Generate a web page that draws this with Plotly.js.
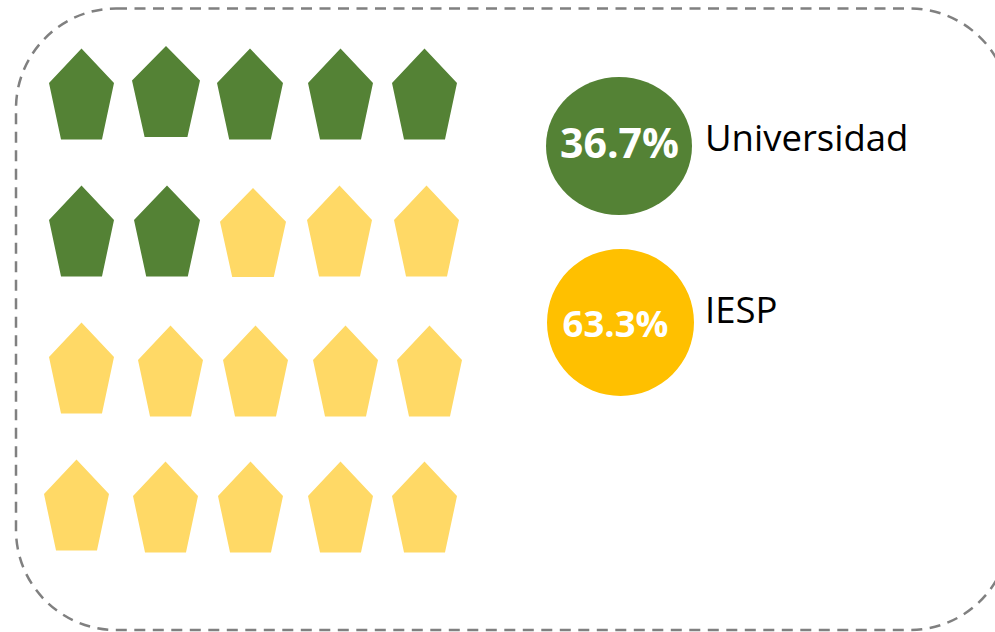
<!DOCTYPE html>
<html><head><meta charset="utf-8">
<script src="https://cdn.plot.ly/plotly-3.0.1.min.js"></script>
<style>html,body{margin:0;padding:0;background:#fff;overflow:hidden}#c{width:995px;height:632px}</style>
</head><body><div id="c"></div>
<script>
const categories = ['Universidad', 'IESP'];
const shares = ['36.7%', '63.3%'];
const iconCounts = [7, 13];
const iconColors = ['#548235', '#FFD966'];
const circleColors = ['#548235', '#FFC000'];

// left / top / width of each icon
const iconLeft = [49,132,217,308,392, 49,134,220,307,394, 49,138,223,313,397, 44,133,218,308,392];
const iconTop  = [48.5,46,48.5,48.5,48.5, 185.5,185.5,188,185.5,185.5, 322.5,325.5,325.5,325.5,325.5, 459.5,461.5,461.5,461.5,461.5];
const iconWide = [65,68,66,65,65, 65,66,66,65,65, 65,65,65,65,65, 65,65,65,65,65];
const iconTall = [91,91,91,91,91, 91,91,89,91,91, 91,91,91,91,91, 91,91,91,91,91];

// pentagon outline as fractions of its box
const penX = [0.5, 1, 0.815, 0.185, 0, 0.5];
const penY = [0, 0.38, 1, 1, 0.38, 0];

function icons(start, n, color, name) {
  const x = [], y = [];
  for (let i = start; i < start + n; i++) {
    penX.forEach((f, k) => {
      x.push(iconLeft[i] + f * iconWide[i]);
      y.push(iconTop[i] + penY[k] * iconTall[i]);
    });
    x.push(null); y.push(null);
  }
  return {type:'scatter', mode:'lines', x, y, name, fill:'toself', fillcolor:color,
          line:{width:0, color:color}, hoverinfo:'skip', showlegend:false};
}

const circleX0 = [546, 547], circleX1 = [692, 694];
const circleY0 = [77, 249], circleY1 = [215, 396];
const shareX = [619.5, 615.5], shareY = [147.5, 327.5], shareSize = [41, 36.5];
const labelX = [705, 705], labelY = [142, 314], labelSize = [36.5, 36.5];

const border = {x0:16, x1:1010, y0:8.5, y1:630, r:100};

function framePath(b) {
  const k = b.r * 0.45;
  return `M ${b.x0+b.r} ${b.y0} L ${b.x1-b.r} ${b.y0} ` +
    `C ${b.x1-k} ${b.y0} ${b.x1} ${b.y0+k} ${b.x1} ${b.y0+b.r} L ${b.x1} ${b.y1-b.r} ` +
    `C ${b.x1} ${b.y1-k} ${b.x1-k} ${b.y1} ${b.x1-b.r} ${b.y1} L ${b.x0+b.r} ${b.y1} ` +
    `C ${b.x0+k} ${b.y1} ${b.x0} ${b.y1-k} ${b.x0} ${b.y1-b.r} L ${b.x0} ${b.y0+b.r} ` +
    `C ${b.x0} ${b.y0+k} ${b.x0+k} ${b.y0} ${b.x0+b.r} ${b.y0} Z`;
}

const shapes = [{type:'path', path:framePath(border), xref:'x', yref:'y', layer:'below',
  line:{color:'#808080', width:2.5, dash:'11px,7.5px'}, fillcolor:'rgba(0,0,0,0)'}];
categories.forEach((c, i) => shapes.push({type:'circle', xref:'x', yref:'y', layer:'below',
  x0:circleX0[i], x1:circleX1[i], y0:circleY0[i], y1:circleY1[i],
  fillcolor:circleColors[i], line:{width:0}}));

const traces = [
  icons(0, iconCounts[0], iconColors[0], categories[0]),
  icons(iconCounts[0], iconCounts[1], iconColors[1], categories[1]),
  ...categories.map((c, i) => ({type:'scatter', mode:'text', x:[shareX[i]], y:[shareY[i]], text:['<b>'+shares[i]+'</b>'],
    textposition:'middle center', textfont:{family:'Open Sans', size:shareSize[i], color:'#fff'},
    hoverinfo:'skip', showlegend:false, cliponaxis:false})),
  ...categories.map((c, i) => ({type:'scatter', mode:'text', x:[labelX[i]], y:[labelY[i]], text:[c],
    textposition:'middle right', textfont:{family:'Open Sans', size:labelSize[i], color:'#000'},
    hoverinfo:'skip', showlegend:false, cliponaxis:false}))
];

Plotly.newPlot('c', traces, {
  width:995, height:632, margin:{l:0,r:0,t:0,b:0},
  paper_bgcolor:'#fff', plot_bgcolor:'#fff', showlegend:false,
  xaxis:{range:[0,995], visible:false, fixedrange:true},
  yaxis:{range:[632,0], visible:false, fixedrange:true},
  shapes
}, {displayModeBar:false, staticPlot:true});
</script></body></html>
